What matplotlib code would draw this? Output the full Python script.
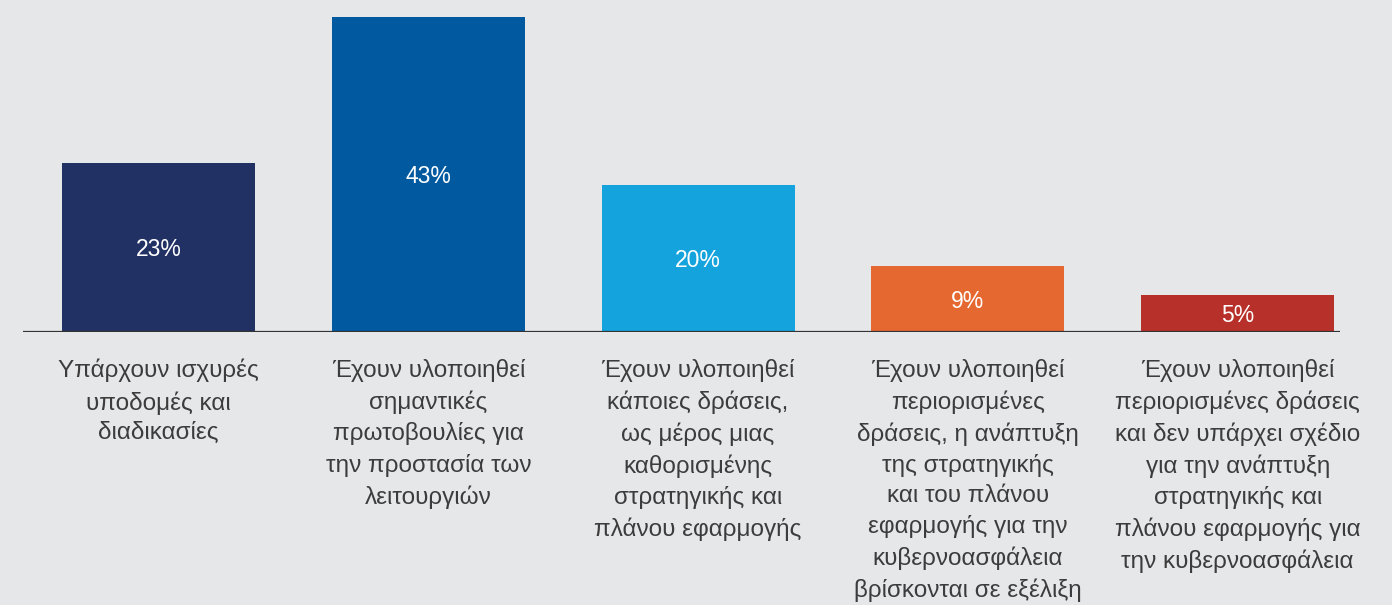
import matplotlib
matplotlib.use("Agg")
import matplotlib.pyplot as plt

categories = [
    "Υπάρχουν ισχυρές\nυποδομές και\nδιαδικασίες",
    "Έχουν υλοποιηθεί\nσημαντικές\nπρωτοβουλίες για\nτην προστασία των\nλειτουργιών",
    "Έχουν υλοποιηθεί\nκάποιες δράσεις,\nως μέρος μιας\nκαθορισμένης\nστρατηγικής και\nπλάνου εφαρμογής",
    "Έχουν υλοποιηθεί\nπεριορισμένες\nδράσεις, η ανάπτυξη\nτης στρατηγικής\nκαι του πλάνου\nεφαρμογής για την\nκυβερνοασφάλεια\nβρίσκονται σε εξέλιξη",
    "Έχουν υλοποιηθεί\nπεριορισμένες δράσεις\nκαι δεν υπάρχει σχέδιο\nγια την ανάπτυξη\nστρατηγικής και\nπλάνου εφαρμογής για\nτην κυβερνοασφάλεια",
]
values = [23, 43, 20, 9, 5]
colors = ["#223163", "#0159a0", "#14a3dc", "#e66831", "#b8302a"]

BG = "#e6e7e9"
W, H = 1392, 605
fig = plt.figure(figsize=(W / 100, H / 100), dpi=100, facecolor=BG)

left_px, right_px, base_px = 23, 1340, 332
ax = fig.add_axes([left_px / W, (H - base_px) / H, (right_px - left_px) / W, base_px / H])
ax.set_facecolor(BG)

step = 269.8
c0 = 158.5
ax.set_xlim((left_px - c0) / step, (right_px - c0) / step)
ax.set_ylim(0, base_px / 7.33)

xs = list(range(len(values)))
bars = ax.bar(xs, values, width=193 / step, color=colors, zorder=2)

font = ["Liberation Sans", "DejaVu Sans"]
for x, v in zip(xs, values):
    ax.annotate(f"{v}%", xy=(x, v / 2), xytext=(0, -2), textcoords="offset pixels",
                ha="center", va="center", color="white",
                fontsize=16.5, family=font, zorder=3)

for x, lab in zip(xs, categories):
    ax.annotate(lab, xy=(x, 0), xycoords="data", xytext=(0, -27),
                textcoords="offset pixels", ha="center", va="top",
                fontsize=17.5, family=font, color="#3c3c3c", linespacing=1.46,
                annotation_clip=False)

ax.axhline(0, color="#333333", lw=1.6, zorder=4)
for s in ax.spines.values():
    s.set_visible(False)
ax.set_xticks([])
ax.set_yticks([])

fig.savefig("out.png", dpi=100, facecolor=BG)
